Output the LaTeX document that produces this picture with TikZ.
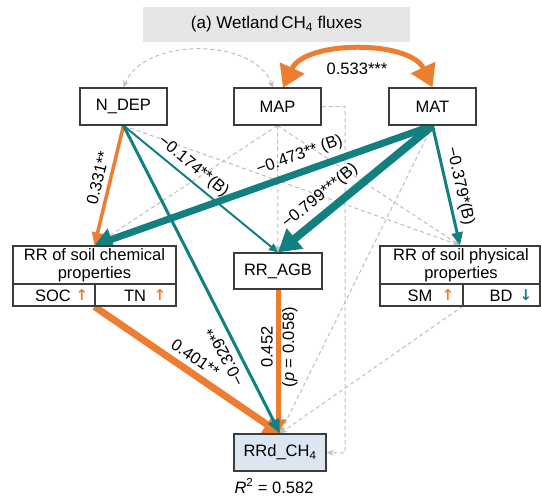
\documentclass[tikz,border=0pt]{standalone}
\usepackage{fontspec}
\setmainfont{Liberation Sans}
\newfontfamily\symfont{DejaVu Sans}
\usetikzlibrary{arrows.meta,backgrounds}
\definecolor{tealc}{RGB}{18,128,128}
\definecolor{orangec}{RGB}{237,125,49}
\definecolor{dashc}{RGB}{190,190,190}
\definecolor{titlec}{RGB}{230,230,230}
\definecolor{bluec}{RGB}{220,230,242}
\definecolor{boxc}{RGB}{60,60,60}
\begin{document}
\begin{tikzpicture}[x=1pt,y=-1pt,
  font=\fontsize{16.5}{18}\selectfont,
  every node/.style={inner sep=0pt},
  box/.style={draw=boxc, line width=1.2pt, fill=white, align=center},
  smallbox/.style={box, minimum width=87pt, minimum height=37pt},
  bigbox/.style={box, minimum width=#1, minimum height=60pt},
  divline/.style={draw=boxc, line width=1.2pt},
  nsline/.style={draw=dashc, line width=1pt, dash pattern=on 4pt off 3pt, -{Stealth[length=7pt,width=6pt]}},
  lab/.style={inner sep=#1, text=black},
  lab/.default=4pt,
  upar/.style={text=orangec, font=\symfont\bfseries\fontsize{15}{18}\selectfont},
  dnar/.style={text=tealc, font=\symfont\bfseries\fontsize{15}{18}\selectfont}
]
\useasboundingbox (0,0) rectangle (541,499);

% title
\node[fill=titlec, minimum width=267pt, minimum height=35pt, font=\fontsize{17}{20}\selectfont] (title) at (276.5,24.5) {(a) Wetland\,CH\textsubscript{4} fluxes};

% top boxes
\node[smallbox] (ndep) at (123.5,106.5) {N\_DEP};
\node[smallbox] (map) at (277.5,106.5) {MAP};
\node[smallbox] (mat) at (432.5,106.5) {MAT};

% middle boxes
\node[bigbox=163pt] (chem) at (94.5,276) {};
\node[align=center] (chemt) at (94.5,265.5) {RR of soil chemical\\properties};
\draw[divline] (chem.west |- 0,284) -- (chem.east |- 0,284);
\coordinate (chemsplit) at (95,306);
\draw[divline] (chemsplit) -- ++(0,-22);
\node (soc) at (53,295.5) {SOC};
\node[upar] (socar) at (82,295) {↑};
\node (tn) at (135,295.5) {TN};
\node[upar] (tnar) at (160,295) {↑};

\node[bigbox=160pt] (phys) at (460,276) {};
\node[align=center] (physt) at (461,265.5) {RR of soil physical\\properties};
\draw[divline] (phys.west |- 0,284) -- (phys.east |- 0,284);
\coordinate (physsplit) at (463,306);
\draw[divline] (physsplit) -- ++(0,-22);
\node (sm) at (420,295.5) {SM};
\node[upar] (smar) at (448,295) {↑};
\node (bd) at (501,295.5) {BD};
\node[dnar] (bdar) at (526,295) {↓};

\node[box, minimum width=88pt, minimum height=36pt] (agb) at (278,271) {RR\_AGB};

% bottom
\node[box, fill=bluec, minimum width=92pt, minimum height=37pt] (rrd) at (280,452.5) {RRd\_CH\textsubscript{4}};
\node (r2) at (274,486) {\textit{R}\textsuperscript{2} = 0.582};

\coordinate (mapL) at (273,88);
\coordinate (mapR) at (283,88);
\coordinate (elb) at (345,453);

\begin{pgfonlayer}{background}
% non-significant paths
\draw[nsline] (ndep.south) -- (phys.north);
\draw[nsline] (map.south) -- (chem.north);
\draw[nsline] (map.south) -- (agb.north);
\draw[nsline] (map.south) -- (phys.north);
\draw[nsline] (mat.south) -- (rrd.north);
\draw[nsline] (physsplit) -- (rrd.north);
\draw[nsline] (map.east) -| (elb) -- (rrd.east);
\draw[nsline, {Stealth[length=7pt,width=6pt]}-{Stealth[length=7pt,width=6pt]}] (mapL) .. controls (255,37) and (143,37) .. (ndep.north);

% orange (positive) paths
\draw[orangec, line width=5pt, {Triangle[length=22pt,width=26pt]}-{Triangle[length=22pt,width=26pt]}] (mapR) .. controls (305,40) and (410,40) .. (mat.north);
\node (l533) at (357,69) {0.533***};
\draw[orangec, line width=3.5pt, -{Triangle[length=13pt,width=11pt]}] (ndep.south) -- (chem.north) node[lab=5pt, pos=0.46, sloped, above] {0.331**};
\draw[orangec, line width=7pt, -{Triangle[length=16pt,width=19pt]}] (chem.south) -- (rrd.north) node[lab=5pt, pos=0.5, sloped, above] {0.401**};
\draw[orangec, line width=5pt, -{Triangle[length=14pt,width=16pt]}] (agb.south) -- (agb.south |- rrd.north);
\path (agb.south |- rrd.north) -- (agb.south) node[lab=5pt, pos=0.6, sloped, above] {0.452} node[lab=4pt, pos=0.6, sloped, below] {(\textit{p} = 0.058)};

% teal (negative) paths
\draw[tealc, line width=2pt, -{Triangle[length=9pt,width=8pt]}] (ndep.south) -- (agb.north) node[lab=4pt, pos=0.4, sloped, above] {−0.174**(B)};
\draw[tealc, line width=3pt, -{Triangle[length=14pt,width=12pt]}] (ndep.south) -- (rrd.north);
\path (rrd.north) -- (ndep.south) node[lab=8pt, pos=0.27, sloped, allow upside down, above] {−0.329**};
\draw[tealc, line width=7pt, -{Triangle[length=18pt,width=22pt]}] (mat.south) -- (chem.north) node[lab=5pt, pos=0.377, sloped, above] {−0.473** (B)};
\draw[tealc, line width=8pt, -{Triangle[length=22pt,width=25pt]}] (mat.south) -- (agb.north) node[lab=5pt, pos=0.66, sloped, above] {−0.799***(B)};
\draw[tealc, line width=3pt, -{Triangle[length=13pt,width=11pt]}] (mat.south) -- (phys.north) node[lab=4pt, pos=0.53, sloped, above] {−0.379*(B)};
\end{pgfonlayer}
\end{tikzpicture}
\end{document}
